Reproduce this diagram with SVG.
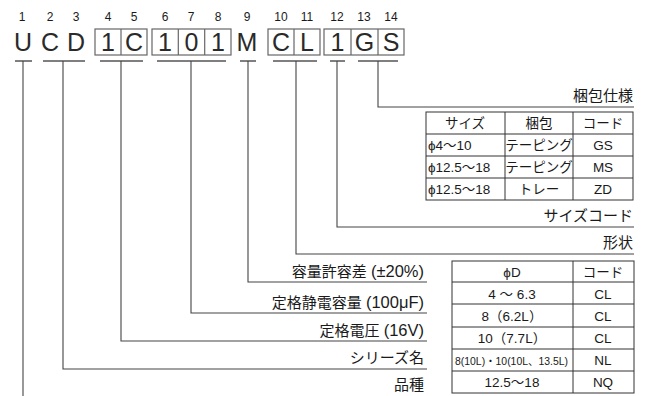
<svg xmlns="http://www.w3.org/2000/svg" width="646" height="396" viewBox="0 0 646 396">
<style>
text{font-family:"Liberation Sans","Noto Sans CJK JP",sans-serif;fill:#1a1a1a}
.num{font-size:12px;text-anchor:middle}
.big{font-size:25px;text-anchor:middle;fill:#2a2a2a}
.lbl{font-size:15px;text-anchor:end}
.lat{font-size:16.5px}
.t{font-size:13.5px;text-anchor:middle}
.tl{font-size:13.5px}
.box{fill:none;stroke:#666;stroke-width:1.2}
.ul{stroke:#555;stroke-width:1.5}
.ln{fill:none;stroke:#444;stroke-width:1.1}
.grid{fill:none;stroke:#333;stroke-width:1}
</style>
<g id="code">
<text class="num" x="22" y="21">1</text>
<text class="num" x="50" y="21">2</text>
<text class="num" x="76" y="21">3</text>
<text class="num" x="108" y="21">4</text>
<text class="num" x="134" y="21">5</text>
<text class="num" x="165" y="21">6</text>
<text class="num" x="191" y="21">7</text>
<text class="num" x="218" y="21">8</text>
<text class="num" x="247" y="21">9</text>
<text class="num" x="281" y="21">10</text>
<text class="num" x="307" y="21">11</text>
<text class="num" x="337" y="21">12</text>
<text class="num" x="364" y="21">13</text>
<text class="num" x="391" y="21">14</text>
<rect class="box" x="95" y="29" width="52" height="26"/>
<line class="box" x1="121" y1="29" x2="121" y2="55"/>
<rect class="box" x="152" y="29" width="79" height="26"/>
<line class="box" x1="178.3" y1="29" x2="178.3" y2="55"/>
<line class="box" x1="204.7" y1="29" x2="204.7" y2="55"/>
<rect class="box" x="268" y="29" width="52" height="26"/>
<line class="box" x1="294" y1="29" x2="294" y2="55"/>
<rect class="box" x="324" y="29" width="80" height="26"/>
<line class="box" x1="351" y1="29" x2="351" y2="55"/>
<line class="box" x1="378" y1="29" x2="378" y2="55"/>
<text class="big" x="23" y="51">U</text>
<text class="big" x="50" y="51">C</text>
<text class="big" x="76" y="51">D</text>
<text class="big" x="108" y="51">1</text>
<text class="big" x="134" y="51">C</text>
<text class="big" x="165" y="51">1</text>
<text class="big" x="191.5" y="51">0</text>
<text class="big" x="218" y="51">1</text>
<text class="big" x="247" y="51">M</text>
<text class="big" x="281" y="51">C</text>
<text class="big" x="307" y="51">L</text>
<text class="big" x="337.5" y="51">1</text>
<text class="big" x="364.5" y="51">G</text>
<text class="big" x="391" y="51">S</text>
<line class="ul" x1="15" y1="61" x2="32" y2="61"/>
<line class="ul" x1="43" y1="61" x2="85" y2="61"/>
<line class="ul" x1="100" y1="61" x2="143" y2="61"/>
<line class="ul" x1="157" y1="61" x2="226" y2="61"/>
<line class="ul" x1="240" y1="61" x2="256" y2="61"/>
<line class="ul" x1="273" y1="61" x2="317" y2="61"/>
<line class="ul" x1="330" y1="61" x2="345" y2="61"/>
<line class="ul" x1="358" y1="61" x2="398" y2="61"/>
</g>
<g id="connectors">
<polyline class="ln" points="378,61 378,107 634,107"/>
<polyline class="ln" points="337,61 337,227 634,227"/>
<polyline class="ln" points="296,61 296,254 634,254"/>
<polyline class="ln" points="248,61 248,282 427,282"/>
<polyline class="ln" points="191,61 191,313 427,313"/>
<polyline class="ln" points="121,61 121,341 427,341"/>
<polyline class="ln" points="63,61 63,369 427,369"/>
<line class="ln" x1="23" y1="61" x2="23" y2="396"/>
</g>
<g id="labels">
<text class="lbl" x="633" y="101">梱包仕様</text>
<text class="lbl" x="633" y="221">サイズコード</text>
<text class="lbl" x="633" y="248">形状</text>
<text class="lbl" x="424" y="277">容量許容差 <tspan class="lat">(±20%)</tspan></text>
<text class="lbl" x="424" y="308">定格静電容量 <tspan class="lat">(100μF)</tspan></text>
<text class="lbl" x="424" y="336">定格電圧 <tspan class="lat">(16V)</tspan></text>
<text class="lbl" x="424" y="363">シリーズ名</text>
<text class="lbl" x="424" y="390">品種</text>
</g>
<g id="packing-table">
<rect class="grid" x="426" y="112" width="207" height="88"/>
<line class="grid" x1="505" y1="112" x2="505" y2="200"/>
<line class="grid" x1="573" y1="112" x2="573" y2="200"/>
<line class="grid" x1="426" y1="134" x2="633" y2="134"/>
<line class="grid" x1="426" y1="156" x2="633" y2="156"/>
<line class="grid" x1="426" y1="178" x2="633" y2="178"/>
<text class="t" x="465" y="128">サイズ</text>
<text class="t" x="539" y="128">梱包</text>
<text class="t" x="603" y="128">コード</text>
<text class="tl" x="428" y="150">ϕ4～10</text>
<text class="t" x="539" y="150">テーピング</text>
<text class="t" x="603" y="150">GS</text>
<text class="tl" x="428" y="172">ϕ12.5～18</text>
<text class="t" x="539" y="172">テーピング</text>
<text class="t" x="603" y="172">MS</text>
<text class="tl" x="428" y="194">ϕ12.5～18</text>
<text class="t" x="539" y="194">トレー</text>
<text class="t" x="603" y="194">ZD</text>
</g>
<g id="shape-table">
<rect class="grid" x="452" y="261" width="182" height="132"/>
<line class="grid" x1="573" y1="261" x2="573" y2="393"/>
<line class="grid" x1="452" y1="282" x2="634" y2="282"/>
<line class="grid" x1="452" y1="304" x2="634" y2="304"/>
<line class="grid" x1="452" y1="327" x2="634" y2="327"/>
<line class="grid" x1="452" y1="349" x2="634" y2="349"/>
<line class="grid" x1="452" y1="371" x2="634" y2="371"/>
<text class="t" x="512" y="277">ϕD</text>
<text class="t" x="603" y="277">コード</text>
<text class="t" x="512" y="299">4 ～ 6.3</text>
<text class="t" x="603" y="299">CL</text>
<text class="t" x="512" y="321">8（6.2L）</text>
<text class="t" x="603" y="321">CL</text>
<text class="t" x="512" y="343">10（7.7L）</text>
<text class="t" x="603" y="343">CL</text>
<text x="455" y="365" font-size="10.5" textLength="113" lengthAdjust="spacingAndGlyphs">8(10L)・10(10L、13.5L)</text>
<text class="t" x="603" y="365">NL</text>
<text class="t" x="512" y="387">12.5～18</text>
<text class="t" x="603" y="387">NQ</text>
</g>
</svg>
